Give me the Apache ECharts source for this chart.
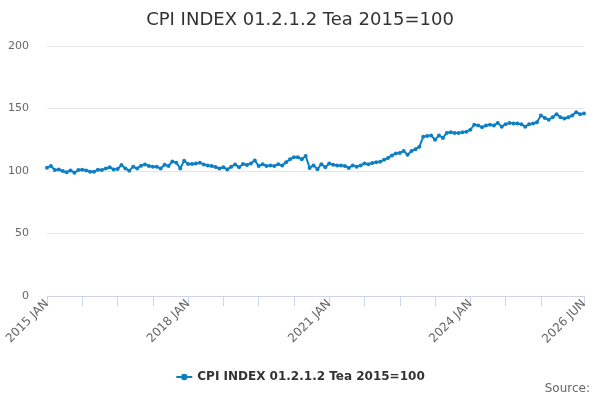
<!DOCTYPE html>
<html>
<head>
<meta charset="utf-8">
<title>CPI INDEX 01.2.1.2 Tea 2015=100</title>
<script src="https://cdn.jsdelivr.net/npm/echarts@6/dist/echarts.min.js"></script>
<style>
    html, body { margin: 0; padding: 0; background: #fff; }
    #chart { width: 600px; height: 400px; }
</style>
</head>
<body>
<div id="chart"></div>
<script>
// 数据
var years = [2015, 2016, 2017, 2018, 2019, 2020, 2021, 2022, 2023, 2024, 2025, 2026];
var monthNames = ['JAN', 'FEB', 'MAR', 'APR', 'MAY', 'JUN', 'JUL', 'AUG', 'SEP', 'OCT', 'NOV', 'DEC'];
var seriesName = 'CPI INDEX 01.2.1.2 Tea 2015=100';
var teaIndex = [
    102.7, 104, 100.8, 101.3, 100, 99, 100.5, 98.7, 100.8, 101, 100.5, 99.5,
    99.5, 101, 100.8, 102, 103, 101.3, 101.6, 104.8, 102, 100.3, 103.5, 102,
    104.3, 105.3, 104, 103.5, 103.5, 102, 105, 104, 107.7, 106.7, 102, 108.3,
    105.6, 105.6, 106, 106.7, 105.3, 104.5, 104, 103.2, 102, 103, 101.3, 103.5,
    105.3, 103, 105.6, 104.8, 106, 108.5, 104, 105.5, 104, 104.5, 104, 105.5,
    104.5, 107, 109.5, 111, 111, 109.5, 112, 102.5, 104.5, 101.5, 105.5, 103,
    106, 105, 104.5, 104.5, 104, 102.5, 104.5, 103.5, 104.5, 106, 105.5, 106.5,
    107, 107.5, 109, 110.5, 112.5, 114, 114.5, 116, 113, 116, 117.5, 119.5,
    127.5, 128, 128.5, 125, 128.5, 126.5, 130.5, 131, 130.5, 130.5, 131, 131.5,
    133, 137, 136.5, 135, 136.5, 137, 136.5, 138.5, 135.5, 137.5, 138.5, 138,
    138, 137.5, 135.5, 137.5, 138, 139, 144.5, 142.5, 141, 143, 145.5, 143,
    142, 143, 144.5, 147, 145.5, 146
];
var yTicks = [0, 50, 100, 150, 200];

// 月份类目
var categories = [];
for (var i = 0; i < teaIndex.length; i++) {
    categories.push(years[Math.floor(i / 12)] + ' ' + monthNames[i % 12]);
}
var last = categories.length - 1;

var chart = echarts.init(document.getElementById('chart'));
var option = {
    animation: false,
    textStyle: { fontFamily: 'DejaVu Sans' },
    title: {
        text: seriesName,
        left: 'center',
        top: 6,
        textStyle: { fontSize: 18, fontWeight: 'normal', color: '#333333' }
    },
    legend: {
        data: [seriesName],
        left: 'center',
        top: 366,
        itemWidth: 16,
        itemHeight: 8,
        textStyle: { fontSize: 12, fontWeight: 'bold', color: '#333333' }
    },
    graphic: [{
        type: 'text',
        right: 10,
        top: 383,
        style: { text: 'Source:', fontSize: 12, fill: '#666666', fontFamily: 'DejaVu Sans' }
    }],
    grid: { left: 47, right: 16, top: 46, bottom: 104, containLabel: false },
    xAxis: {
        type: 'category',
        data: categories,
        boundaryGap: false,
        axisLine: { lineStyle: { color: '#ccd6eb' } },
        axisTick: {
            length: 10,
            lineStyle: { color: '#ccd6eb' },
            interval: function (idx) { return (idx % 9 === 0 && idx <= 126) || idx === last; }
        },
        axisLabel: {
            rotate: 45,
            fontSize: 12,
            color: '#666666',
            margin: 6,
            interval: function (idx) { return idx % 36 === 0 || idx === last; }
        }
    },
    yAxis: {
        type: 'value',
        min: yTicks[0],
        max: yTicks[yTicks.length - 1],
        interval: 50,
        axisLine: { show: false },
        axisTick: { show: false },
        splitLine: { lineStyle: { color: '#e6e6e6' } },
        axisLabel: { fontSize: 11, color: '#666666', margin: 18 }
    },
    series: [{
        name: seriesName,
        type: 'line',
        data: teaIndex,
        symbol: 'circle',
        symbolSize: 4,
        showAllSymbol: true,
        lineStyle: { width: 2, color: '#0f7fc3' },
        itemStyle: { color: '#0f7fc3' }
    }]
};
chart.setOption(option);
</script>
</body>
</html>
